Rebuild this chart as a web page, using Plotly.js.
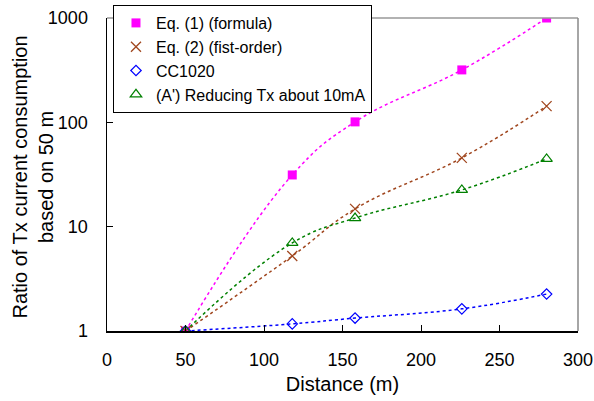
<!DOCTYPE html>
<html>
<head>
<meta charset="utf-8">
<script src="https://cdn.plot.ly/plotly-3.0.1.min.js"></script>
<style>html,body{margin:0;padding:0;background:#fff;}#chart{width:594px;height:401px;}</style>
</head>
<body>
<div id="chart"></div>
<script>
const distance = [50, 118, 158, 226, 280];
const eq1Formula = [1, 31.3, 101, 318, 1000];
const eq2FirstOrder = [1, 5.24, 14.8, 45.6, 143];
const cc1020 = [1, 1.17, 1.33, 1.63, 2.26];
const reducingTx = [1, 6.98, 12.1, 22.5, 44.6];
const seriesNames = ["Eq. (1) (formula)", "Eq. (2) (fist-order)", "CC1020", "(A') Reducing Tx about 10mA"];
const yTickVals = [1, 10, 100, 1000];
const yTickText = ["1", "10", "100", "1000"];
const xTitle = 'Distance (m)';
const yTitle = 'Ratio of Tx current consumption<br>based on 50 m';

const styles = [
  {y: eq1Formula, color: '#FF00FF', symbol: 'square', size: 9, lw: 0},
  {y: eq2FirstOrder, color: '#A0461E', symbol: 'x-thin-open', size: 10, lw: 1.3},
  {y: cc1020, color: '#0000FF', symbol: 'diamond-open', size: 8, lw: 1.2},
  {y: reducingTx, color: '#008000', symbol: 'triangle-up-open', size: 10, lw: 1.2}
];

const data = [];
styles.forEach((s, i) => {
  data.push({
    x: distance, y: s.y, name: seriesNames[i], type: 'scatter', mode: 'lines',
    showlegend: false, hoverinfo: 'skip',
    line: {color: s.color, width: 1.5, dash: 'dot', shape: 'spline', smoothing: 1.2}
  });
});
styles.forEach((s, i) => {
  data.push({
    x: distance, y: s.y, name: seriesNames[i], type: 'scatter', mode: 'markers',
    marker: {symbol: s.symbol, size: s.size, color: s.color, line: {color: s.color, width: s.lw}}
  });
});

const font = {family: '"Liberation Sans", Arial, sans-serif', color: '#000'};
const layout = {
  width: 594, height: 401,
  margin: {l: 107, r: 16, t: 18, b: 70, autoexpand: false},
  paper_bgcolor: '#fff', plot_bgcolor: '#fff',
  font: Object.assign({size: 16}, font),
  showlegend: true,
  legend: {
    x: 0.0127, y: 1.0415, xanchor: 'left', yanchor: 'top',
    bgcolor: '#fff', bordercolor: '#000', borderwidth: 1,
    font: Object.assign({size: 16}, font),
    tracegroupgap: 0, itemwidth: 30, indentation: 2
  },
  xaxis: {
    range: [0, 300], dtick: 50, tick0: 0,
    ticks: 'inside', ticklen: 6, tickcolor: '#000', tickwidth: 1,
    showline: true, linecolor: '#000', linewidth: 1.5, mirror: false,
    showgrid: false, zeroline: false,
    tickfont: Object.assign({size: 18}, font),
    ticklabelstandoff: 12,
    title: {text: xTitle, font: Object.assign({size: 20}, font), standoff: 8}
  },
  yaxis: {
    type: 'log', range: [0, 3],
    tickvals: yTickVals, ticktext: yTickText,
    ticks: 'inside', ticklen: 6, tickcolor: '#000', tickwidth: 1,
    showline: true, linecolor: '#000', linewidth: 1.5, mirror: false,
    showgrid: false, zeroline: false,
    tickfont: Object.assign({size: 18}, font),
    ticklabelstandoff: 14
  },
  annotations: [
    {text: yTitle, xref: 'paper', yref: 'paper', x: 0, y: 0.5, xanchor: 'center', yanchor: 'middle',
     xshift: -75, yshift: -3, textangle: -90, showarrow: false, align: 'center',
     font: Object.assign({size: 20}, font)}
  ],
  shapes: [
    {type: 'line', xref: 'paper', yref: 'paper', x0: 0, x1: 1, y0: 1, y1: 1, line: {color: '#999', width: 1.5}},
    {type: 'line', xref: 'paper', yref: 'paper', x0: 1, x1: 1, y0: 0, y1: 1, line: {color: '#888', width: 1.5}}
  ]
};

Plotly.newPlot('chart', data, layout, {displayModeBar: false, staticPlot: true});
</script>
</body>
</html>
